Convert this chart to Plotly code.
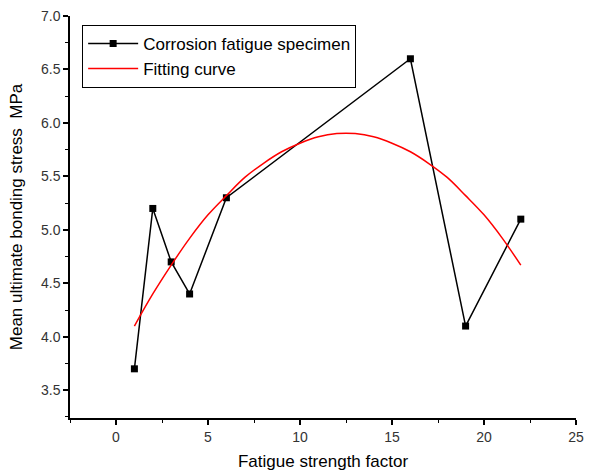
import plotly.graph_objects as go

# Data
x_specimen = [1, 2, 3, 4, 6, 16, 19, 22]
y_specimen = [3.7, 5.2, 4.7, 4.4, 5.3, 6.6, 4.1, 5.1]

x_fit = [1, 2, 3, 4, 5, 6, 7, 8, 9, 10, 11, 12, 13, 14, 15, 16, 17, 18, 19, 20, 21, 22]
y_fit = [4.10, 4.40, 4.67, 4.92, 5.14, 5.32, 5.49, 5.62, 5.73, 5.81, 5.87, 5.90,
         5.90, 5.87, 5.81, 5.73, 5.62, 5.49, 5.32, 5.14, 4.92, 4.67]

x_ticks = [0, 5, 10, 15, 20, 25]
y_ticks = [3.5, 4.0, 4.5, 5.0, 5.5, 6.0, 6.5, 7.0]

font = "Liberation Sans, Arial, sans-serif"

fig = go.Figure()
fig.add_trace(go.Scatter(
    x=x_specimen, y=y_specimen, mode="lines+markers",
    name="Corrosion fatigue specimen",
    line=dict(color="black", width=1.5),
    marker=dict(symbol="square", size=7, color="black"),
))
fig.add_trace(go.Scatter(
    x=x_fit, y=y_fit, mode="lines", name="Fitting curve",
    line=dict(color="red", width=1.5, shape="spline"),
))

fig.update_layout(
    width=590, height=471,
    margin=dict(l=70, r=14, t=16, b=53),
    paper_bgcolor="white", plot_bgcolor="white",
    font=dict(family=font, size=14, color="#333333"),
    showlegend=True,
    legend=dict(
        x=0.024, y=0.978, xanchor="left", yanchor="top",
        bordercolor="black", borderwidth=1, bgcolor="white",
        font=dict(family=font, size=17, color="black"),
        tracegroupgap=0, itemwidth=50,
    ),
    xaxis=dict(
        range=[-2.5, 25], tickvals=x_ticks, ticktext=[str(v) for v in x_ticks],
        automargin=False,
        showgrid=False, zeroline=False, showline=True, linecolor="black", linewidth=1.5,
        ticks="outside", ticklen=5, tickwidth=1.5, tickcolor="black",
        minor=dict(dtick=2.5, tick0=0, ticks="outside", ticklen=3, tickwidth=1, tickcolor="black"),
        tickfont=dict(size=14, color="#333333"),
        title=dict(text="Fatigue strength factor", font=dict(size=17, color="black"), standoff=14),
    ),
    yaxis=dict(
        range=[3.24, 7.0], tickvals=y_ticks, ticktext=[f"{v:.1f}" for v in y_ticks],
        automargin=False,
        showgrid=False, zeroline=False, showline=True, linecolor="black", linewidth=1.5,
        ticks="outside", ticklen=5, tickwidth=1.5, tickcolor="black",
        minor=dict(dtick=0.25, tick0=3.25, ticks="outside", ticklen=3, tickwidth=1, tickcolor="black"),
        tickfont=dict(size=14, color="#333333"),
        title=dict(text="Mean ultimate bonding stress  MPa", font=dict(size=17, color="black"), standoff=14),
    ),
)

fig.write_html(
    "out.html",
    config={"displayModeBar": False},
    post_script="document.body.style.margin='0';document.body.style.overflow='hidden';",
)
